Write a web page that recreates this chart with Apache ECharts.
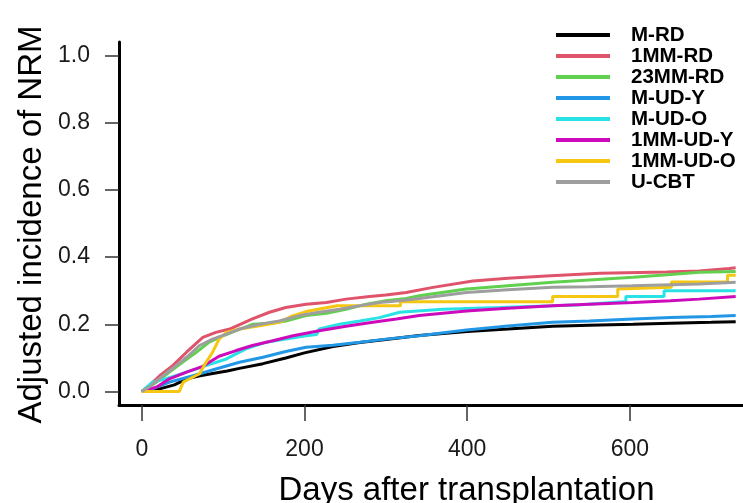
<!DOCTYPE html>
<html>
<head>
<meta charset="utf-8">
<script src="https://cdn.jsdelivr.net/npm/echarts@6/dist/echarts.min.js"></script>
<style>
  html, body { margin: 0; padding: 0; background: #fff; }
  #chart { width: 743px; height: 503px; }
</style>
</head>
<body>
<div id="chart"></div>
<script>
// group names (legend order) and R 4.x palette colours
const groups = ['M-RD', '1MM-RD', '23MM-RD', 'M-UD-Y', 'M-UD-O', '1MM-UD-Y', '1MM-UD-O', 'U-CBT'];
const colors = ['#000000', '#DF536B', '#61D04F', '#2297E6', '#28E2E5', '#CD0BBC', '#F5C710', '#9E9E9E'];

const xTicks = [0, 200, 400, 600];
const yTicks = [0, 0.2, 0.4, 0.6, 0.8, 1.0];

// days after transplantation / adjusted incidence
const mrdDays = [0, 15, 22, 40, 55, 70, 87, 105, 120, 149, 177, 200, 235, 268, 300, 341, 400, 450, 505, 550, 604, 650, 700, 730];
const mrdInc  = [0, 0.003, 0.008, 0.02, 0.038, 0.046, 0.054, 0.061, 0.069, 0.083, 0.1, 0.115, 0.134, 0.146, 0.155, 0.167, 0.179, 0.186, 0.194, 0.197, 0.2, 0.203, 0.206, 0.208];

const mm1rdDays = [0, 10, 22, 38, 55, 75, 91, 108, 136, 157, 177, 202, 227, 251, 280, 300, 325, 358, 407, 450, 497, 563, 645, 685, 722, 730];
const mm1rdInc  = [0, 0.02, 0.047, 0.077, 0.117, 0.161, 0.176, 0.186, 0.216, 0.236, 0.25, 0.26, 0.265, 0.275, 0.283, 0.287, 0.295, 0.31, 0.329, 0.337, 0.344, 0.352, 0.356, 0.359, 0.366, 0.368];

const mm23rdDays = [0, 18, 34, 50, 67, 83, 100, 116, 136, 160, 177, 202, 227, 251, 276, 300, 325, 341, 399, 450, 505, 550, 604, 650, 685, 730];
const mm23rdInc  = [0, 0.028, 0.058, 0.087, 0.117, 0.147, 0.166, 0.181, 0.2, 0.203, 0.21, 0.226, 0.233, 0.245, 0.26, 0.27, 0.277, 0.285, 0.305, 0.315, 0.325, 0.332, 0.34, 0.348, 0.355, 0.357];

const mudyDays = [0, 13, 34, 63, 91, 120, 149, 177, 202, 235, 268, 300, 341, 399, 450, 505, 550, 604, 650, 700, 730];
const mudyInc  = [0, 0.008, 0.028, 0.047, 0.067, 0.087, 0.102, 0.119, 0.132, 0.138, 0.147, 0.156, 0.166, 0.183, 0.195, 0.206, 0.21, 0.216, 0.22, 0.223, 0.226];

const mudoDays = [0, 13, 30, 55, 79, 104, 128, 153, 177, 202, 215, 218, 243, 268, 292, 317, 370, 440, 505, 540, 595, 595, 642, 642, 730];
const mudoInc  = [0, 0.028, 0.038, 0.058, 0.077, 0.097, 0.127, 0.147, 0.156, 0.166, 0.17, 0.186, 0.2, 0.21, 0.22, 0.236, 0.245, 0.25, 0.255, 0.258, 0.268, 0.283, 0.283, 0.3, 0.3];

const mm1udyDays = [0, 18, 34, 55, 75, 95, 116, 136, 161, 186, 218, 251, 284, 313, 341, 399, 450, 505, 550, 604, 650, 685, 730];
const mm1udyInc  = [0, 0.013, 0.038, 0.058, 0.075, 0.105, 0.122, 0.137, 0.151, 0.166, 0.181, 0.194, 0.206, 0.216, 0.226, 0.24, 0.248, 0.255, 0.26, 0.265, 0.27, 0.275, 0.283];

const mm1udoDays = [0, 46, 51, 59, 71, 79, 87, 95, 104, 120, 145, 169, 185, 202, 240, 318, 318, 505, 505, 585, 585, 651, 651, 720, 720, 730];
const mm1udoInc  = [0, 0, 0.028, 0.038, 0.053, 0.087, 0.117, 0.156, 0.176, 0.186, 0.196, 0.206, 0.225, 0.238, 0.255, 0.255, 0.267, 0.267, 0.283, 0.283, 0.305, 0.31, 0.326, 0.326, 0.346, 0.346];

const ucbtDays = [0, 10, 26, 42, 55, 71, 87, 104, 120, 145, 169, 194, 218, 243, 268, 292, 317, 341, 399, 450, 505, 550, 603, 650, 685, 730];
const ucbtInc  = [0, 0.015, 0.047, 0.077, 0.102, 0.137, 0.156, 0.171, 0.186, 0.2, 0.21, 0.226, 0.236, 0.245, 0.255, 0.265, 0.27, 0.277, 0.295, 0.303, 0.31, 0.312, 0.315, 0.318, 0.32, 0.325];

const curves = [
  [mrdDays, mrdInc], [mm1rdDays, mm1rdInc], [mm23rdDays, mm23rdInc], [mudyDays, mudyInc],
  [mudoDays, mudoInc], [mm1udyDays, mm1udyInc], [mm1udoDays, mm1udoInc], [ucbtDays, ucbtInc]
];

const font = 'Liberation Sans, Arial, Helvetica, sans-serif';
const chart = echarts.init(document.getElementById('chart'));

const series = groups.map(function (name, i) {
  const days = curves[i][0], inc = curves[i][1];
  return {
    name: name,
    type: 'line',
    showSymbol: false,
    symbol: 'none',
    color: colors[i],
    lineStyle: { width: 3, color: colors[i] },
    data: days.map(function (d, j) { return [d, inc[j]]; })
  };
});

const option = {
  animation: false,
  backgroundColor: '#fff',
  grid: { left: 119, right: 0, top: 42, bottom: 98 },
  xAxis: {
    type: 'value',
    min: -28,
    max: 739,
    axisLine: { onZero: false, lineStyle: { color: '#000', width: 3 } },
    axisTick: { customValues: xTicks, length: 16, lineStyle: { color: '#333', width: 1.5 } },
    axisLabel: { customValues: xTicks, margin: 33, fontSize: 23, color: '#1a1a1a', fontFamily: font },
    splitLine: { show: false }
  },
  yAxis: {
    type: 'value',
    min: -0.04,
    max: 1.04,
    axisLine: { show: true, onZero: false, lineStyle: { color: '#000', width: 3 } },
    axisTick: { show: true, customValues: yTicks, length: 14, lineStyle: { color: '#333', width: 1.5 } },
    axisLabel: {
      customValues: yTicks, margin: 29, fontSize: 23, color: '#1a1a1a', fontFamily: font,
      formatter: function (v) { return v.toFixed(1); }
    },
    splitLine: { show: false }
  },
  legend: {
    data: groups,
    orient: 'vertical',
    left: 551,
    top: 19.6,
    icon: 'rect',
    itemWidth: 54,
    itemHeight: 4,
    itemGap: 0,
    textStyle: {
      fontSize: 20.5, fontWeight: 'bold', color: '#000', fontFamily: font,
      lineHeight: 10.7, padding: [10, 0, 0, 16]
    }
  },
  graphic: [
    {
      type: 'text', x: 466.5, y: 490.5,
      style: { text: 'Days after transplantation', font: '33px ' + font, fill: '#000', align: 'center', verticalAlign: 'middle' }
    },
    {
      type: 'text', x: 31.5, y: 224.5, rotation: Math.PI / 2,
      style: { text: 'Adjusted incidence of NRM', font: '33px ' + font, fill: '#000', align: 'center', verticalAlign: 'middle' }
    }
  ],
  series: series
};

chart.setOption(option);
</script>
</body>
</html>
